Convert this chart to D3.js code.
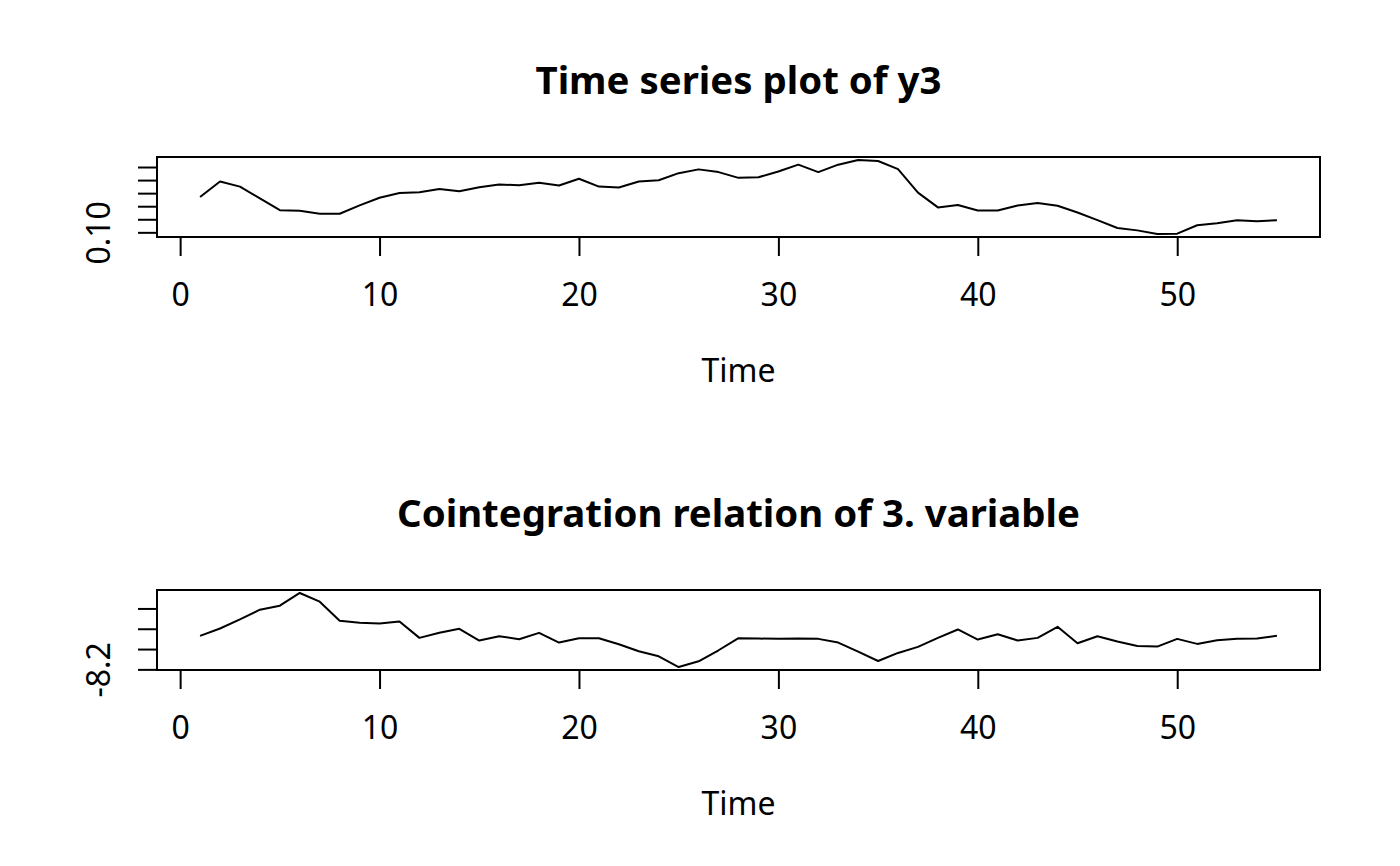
<!DOCTYPE html>
<html>
<head>
<meta charset="utf-8">
<script src="https://cdn.jsdelivr.net/npm/d3@7"></script>
<style>
  body { margin: 0; background: #fff; }
  text { font-family: "Noto Sans", "Open Sans", sans-serif; fill: #000; }
  .title { font-weight: bold; font-size: 38.4px; }
  .axis text { font-size: 32px; }
  .lab { font-size: 32px; }
</style>
</head>
<body>
<script>
var width = 1400, height = 866;

// time index of both series
var time = [1, 2, 3, 4, 5, 6, 7, 8, 9, 10, 11, 12, 13, 14, 15, 16, 17, 18, 19, 20,
  21, 22, 23, 24, 25, 26, 27, 28, 29, 30, 31, 32, 33, 34, 35, 36, 37, 38, 39, 40,
  41, 42, 43, 44, 45, 46, 47, 48, 49, 50, 51, 52, 53, 54, 55];

// y3 series
var y3 = [0.1270, 0.1389, 0.1350, 0.1260, 0.1170, 0.1165, 0.1142, 0.1142, 0.1206, 0.1265,
  0.1301, 0.1307, 0.1332, 0.1314, 0.1345, 0.1366, 0.1361, 0.1379, 0.1358, 0.1410,
  0.1350, 0.1343, 0.1389, 0.1399, 0.1453, 0.1482, 0.1461, 0.1417, 0.1422, 0.1466,
  0.1518, 0.1461, 0.1518, 0.1554, 0.1546, 0.1484, 0.1304, 0.1191, 0.1209, 0.1167,
  0.1167, 0.1206, 0.1224, 0.1203, 0.1152, 0.1093, 0.1033, 0.1015, 0.0987, 0.0990,
  0.1054, 0.1070, 0.1093, 0.1085, 0.1093];

// cointegration relation of the 3rd variable
var coint = [-8.0350, -7.9987, -7.9541, -7.9063, -7.8865, -7.8238, -7.8667, -7.9607, -7.9706, -7.9739,
  -7.9640, -8.0449, -8.0201, -8.0003, -8.0581, -8.0366, -8.0515, -8.0201, -8.0680, -8.0465,
  -8.0465, -8.0762, -8.1109, -8.1356, -8.1885, -8.1604, -8.1059, -8.0465, -8.0482, -8.0498,
  -8.0482, -8.0498, -8.0680, -8.1125, -8.1588, -8.1191, -8.0894, -8.0449, -8.0036, -8.0531,
  -8.0267, -8.0581, -8.0449, -7.9904, -8.0713, -8.0366, -8.0630, -8.0845, -8.0878, -8.0498,
  -8.0746, -8.0564, -8.0498, -8.0482, -8.0350];

var xTicks = [0, 10, 20, 30, 40, 50];
var y3Ticks = [0.10, 0.11, 0.12, 0.13, 0.14, 0.15];
var y3Labels = ["0.10", "", "", "", "", ""];
var cointTicks = [-8.2, -8.1, -8.0, -7.9];
var cointLabels = ["-8.2", "", "", ""];

var panels = [
  {title: "Time series plot of y3", values: y3, ticks: y3Ticks, labels: y3Labels},
  {title: "Cointegration relation of 3. variable", values: coint, ticks: cointTicks, labels: cointLabels}
];

var svg = d3.select("body").append("svg")
    .attr("width", width).attr("height", height);

var figH = 433;
var plotL = 157, plotR = 1320, plotT = 157, plotB = 237;

// R style: extend the data range by 4% on each side
function pad(ext) {
  var d = (ext[1] - ext[0]) * 0.04;
  return [ext[0] - d, ext[1] + d];
}

var x = d3.scaleLinear().domain(pad(d3.extent(time))).range([plotL, plotR]);

panels.forEach(function(p, i) {
  var g = svg.append("g").attr("transform", "translate(0," + (i * figH) + ")");

  var y = d3.scaleLinear().domain(pad(d3.extent(p.values))).range([plotB, plotT]);

  var line = d3.line()
      .x(function(d, j) { return x(time[j]); })
      .y(function(d) { return y(d); });

  g.append("path").datum(p.values)
      .attr("d", line)
      .attr("fill", "none")
      .attr("stroke", "#000")
      .attr("stroke-width", 2)
      .attr("stroke-linejoin", "round");

  g.append("rect")
      .attr("x", plotL).attr("y", plotT)
      .attr("width", plotR - plotL).attr("height", plotB - plotT)
      .attr("fill", "none").attr("stroke", "#000").attr("stroke-width", 2);

  var xAxis = g.append("g").attr("class", "axis")
      .attr("transform", "translate(0," + plotB + ")")
      .call(d3.axisBottom(x).tickValues(xTicks).tickSize(19).tickPadding(27).tickFormat(d3.format("d")));
  xAxis.select(".domain").remove();
  xAxis.selectAll("line").attr("stroke-width", 2);
  xAxis.selectAll("text").attr("font-family", null).attr("font-size", null);

  var yAxis = g.append("g").attr("class", "axis")
      .attr("transform", "translate(" + plotL + ",0)")
      .call(d3.axisLeft(y).tickValues(p.ticks).tickSize(19).tickFormat(function(d, j) { return p.labels[j]; }));
  yAxis.select(".domain").remove();
  yAxis.selectAll("line").attr("stroke-width", 2);
  yAxis.selectAll("text")
      .attr("font-family", null).attr("font-size", null)
      .attr("x", null).attr("dy", null)
      .attr("text-anchor", "middle")
      .attr("transform", "translate(-47,0) rotate(-90)");

  g.append("text").attr("class", "title")
      .attr("x", (plotL + plotR) / 2).attr("y", 94)
      .attr("text-anchor", "middle")
      .text(p.title);

  g.append("text").attr("class", "lab")
      .attr("x", (plotL + plotR) / 2).attr("y", 382)
      .attr("text-anchor", "middle")
      .text("Time");
});
</script>
</body>
</html>
